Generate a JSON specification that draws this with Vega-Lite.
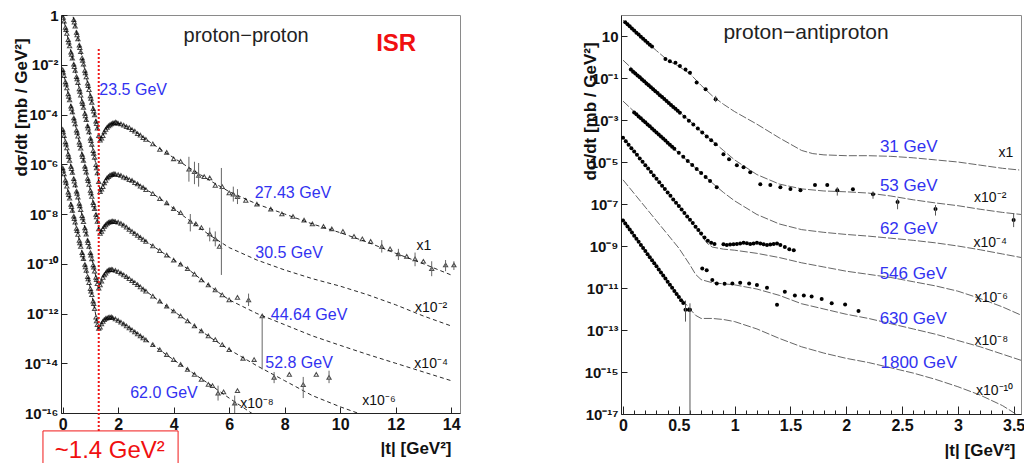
{
"$schema":"https://vega.github.io/schema/vega-lite/v6.json",
"background":"white",
"padding":{"left":11,"top":7,"right":0,"bottom":0},
"autosize":{"type":"pad"},
"bounds":"flush",
"spacing":161,
"resolve":{"scale":{"x":"independent","y":"independent"},"axis":{"x":"independent","y":"independent"}},
"config":{
 "font":"Liberation Sans",
 "view":{"stroke":"#8a8a8a","strokeWidth":1},
 "axis":{"grid":false,"labelFont":"Liberation Sans","labelFontWeight":"bold","labelColor":"#111","titleFont":"Liberation Sans","titleFontWeight":"bold","titleFontSize":17,"titleColor":"#111","domainColor":"#222","tickColor":"#222","tickSize":-6,"labelPadding":9,"labelOverlap":false,"labelFlush":false,"labelBound":false},
 "axisX":{"labelFontSize":16},
 "axisY":{"labelFontSize":15}
},
"datasets":{
"ppc":[
{"s":"A","t":0,"v":1.85},{"s":"A","t":0.2,"v":0.83},{"s":"A","t":0.4,"v":-0.19},{"s":"A","t":0.6,"v":-1.21},{"s":"A","t":0.8,"v":-2.23},{"s":"A","t":1.0,"v":-3.25},{"s":"A","t":1.2,"v":-4.27},{"s":"A","t":1.3,"v":-4.85},{"s":"A","t":1.35,"v":-5.06},{"s":"A","t":1.45,"v":-4.85},{"s":"A","t":1.55,"v":-4.6},{"s":"A","t":1.7,"v":-4.4},{"s":"A","t":1.9,"v":-4.33},{"s":"A","t":2.1,"v":-4.38},{"s":"A","t":2.5,"v":-4.6},{"s":"A","t":3.0,"v":-5.0},{"s":"A","t":3.6,"v":-5.45},{"s":"A","t":4.5,"v":-6.1},{"s":"A","t":5.3,"v":-6.65},{"s":"A","t":6.0,"v":-7.1},{"s":"A","t":7.0,"v":-7.6},{"s":"A","t":8.0,"v":-8.0},{"s":"A","t":9.0,"v":-8.4},{"s":"A","t":10.0,"v":-8.75},{"s":"A","t":11.0,"v":-9.14},{"s":"A","t":12.0,"v":-9.58},{"s":"A","t":13.0,"v":-10.0},{"s":"A","t":14.0,"v":-10.45},
{"s":"B","t":0,"v":0.0},{"s":"B","t":0.2,"v":-0.99},{"s":"B","t":0.4,"v":-1.98},{"s":"B","t":0.6,"v":-2.97},{"s":"B","t":0.8,"v":-3.96},{"s":"B","t":1.0,"v":-4.95},{"s":"B","t":1.2,"v":-6.02},{"s":"B","t":1.3,"v":-6.7},{"s":"B","t":1.35,"v":-7.15},{"s":"B","t":1.45,"v":-6.95},{"s":"B","t":1.55,"v":-6.65},{"s":"B","t":1.7,"v":-6.45},{"s":"B","t":1.9,"v":-6.4},{"s":"B","t":2.1,"v":-6.45},{"s":"B","t":2.5,"v":-6.65},{"s":"B","t":3.0,"v":-7.0},{"s":"B","t":3.6,"v":-7.45},{"s":"B","t":4.5,"v":-8.2},{"s":"B","t":5.3,"v":-8.85},{"s":"B","t":6.0,"v":-9.35},{"s":"B","t":7.0,"v":-9.85},{"s":"B","t":8.0,"v":-10.25},{"s":"B","t":9.0,"v":-10.6},{"s":"B","t":10.0,"v":-10.9},{"s":"B","t":11.0,"v":-11.25},{"s":"B","t":12.0,"v":-11.65},{"s":"B","t":13.0,"v":-12.1},{"s":"B","t":14.0,"v":-12.5},
{"s":"C","t":0,"v":-2.2},{"s":"C","t":0.2,"v":-3.17},{"s":"C","t":0.4,"v":-4.14},{"s":"C","t":0.6,"v":-5.11},{"s":"C","t":0.8,"v":-6.08},{"s":"C","t":1.0,"v":-7.05},{"s":"C","t":1.2,"v":-8.02},{"s":"C","t":1.3,"v":-8.6},{"s":"C","t":1.35,"v":-8.8},{"s":"C","t":1.45,"v":-8.6},{"s":"C","t":1.55,"v":-8.42},{"s":"C","t":1.7,"v":-8.32},{"s":"C","t":1.9,"v":-8.3},{"s":"C","t":2.1,"v":-8.38},{"s":"C","t":2.5,"v":-8.7},{"s":"C","t":3.0,"v":-9.1},{"s":"C","t":3.6,"v":-9.55},{"s":"C","t":4.5,"v":-10.2},{"s":"C","t":5.3,"v":-10.9},{"s":"C","t":6.0,"v":-11.45},{"s":"C","t":7.0,"v":-12.0},{"s":"C","t":8.0,"v":-12.45},{"s":"C","t":9.0,"v":-12.9},{"s":"C","t":10.0,"v":-13.28},{"s":"C","t":11.0,"v":-13.65},{"s":"C","t":12.0,"v":-14.0},{"s":"C","t":13.0,"v":-14.35},{"s":"C","t":14.0,"v":-14.7},
{"s":"D","t":0,"v":-4.6},{"s":"D","t":0.2,"v":-5.59},{"s":"D","t":0.4,"v":-6.58},{"s":"D","t":0.6,"v":-7.57},{"s":"D","t":0.8,"v":-8.56},{"s":"D","t":1.0,"v":-9.55},{"s":"D","t":1.15,"v":-10.3},{"s":"D","t":1.3,"v":-11.0},{"s":"D","t":1.4,"v":-10.7},{"s":"D","t":1.5,"v":-10.45},{"s":"D","t":1.7,"v":-10.24},{"s":"D","t":1.9,"v":-10.27},{"s":"D","t":2.1,"v":-10.38},{"s":"D","t":2.5,"v":-10.68},{"s":"D","t":3.0,"v":-11.1},{"s":"D","t":3.6,"v":-11.6},{"s":"D","t":4.5,"v":-12.3},{"s":"D","t":5.3,"v":-12.95},{"s":"D","t":6.0,"v":-13.45},{"s":"D","t":7.0,"v":-14.1},{"s":"D","t":8.0,"v":-14.7},{"s":"D","t":9.0,"v":-15.3},{"s":"D","t":10.0,"v":-15.75},{"s":"D","t":11.0,"v":-16.15},
{"s":"E","t":0,"v":-6.15},{"s":"E","t":0.2,"v":-7.12},{"s":"E","t":0.4,"v":-8.09},{"s":"E","t":0.6,"v":-9.06},{"s":"E","t":0.8,"v":-10.03},{"s":"E","t":1.0,"v":-11.0},{"s":"E","t":1.15,"v":-11.8},{"s":"E","t":1.28,"v":-12.6},{"s":"E","t":1.4,"v":-12.42},{"s":"E","t":1.55,"v":-12.2},{"s":"E","t":1.75,"v":-12.15},{"s":"E","t":2.0,"v":-12.28},{"s":"E","t":2.5,"v":-12.66},{"s":"E","t":3.0,"v":-13.06},{"s":"E","t":3.6,"v":-13.55},{"s":"E","t":4.5,"v":-14.25},{"s":"E","t":5.3,"v":-14.85},{"s":"E","t":6.0,"v":-15.4},{"s":"E","t":6.6,"v":-15.85},{"s":"E","t":7.0,"v":-16.15}
],
"ppd":[
{"s":"A","t":0.4,"v":-0.19},{"s":"A","t":0.42,"v":-0.29},{"s":"A","t":0.45,"v":-0.45},{"s":"A","t":0.5,"v":-0.7},{"s":"A","t":0.52,"v":-0.8},{"s":"A","t":0.55,"v":-0.96},{"s":"A","t":0.6,"v":-1.21},{"s":"A","t":0.62,"v":-1.31},{"s":"A","t":0.65,"v":-1.47},{"s":"A","t":0.7,"v":-1.72},{"s":"A","t":0.72,"v":-1.82},{"s":"A","t":0.75,"v":-1.98},{"s":"A","t":0.8,"v":-2.23},{"s":"A","t":0.82,"v":-2.33},{"s":"A","t":0.85,"v":-2.49},{"s":"A","t":0.9,"v":-2.74},{"s":"A","t":0.92,"v":-2.84},{"s":"A","t":0.95,"v":-3.0},{"s":"A","t":1.0,"v":-3.25},{"s":"A","t":1.02,"v":-3.35},{"s":"A","t":1.05,"v":-3.51},{"s":"A","t":1.1,"v":-3.76},{"s":"A","t":1.12,"v":-3.86},{"s":"A","t":1.15,"v":-4.02},{"s":"A","t":1.2,"v":-4.27},{"s":"A","t":1.22,"v":-4.37},{"s":"A","t":1.25,"v":-4.55},{"s":"A","t":1.3,"v":-4.85},{"s":"A","t":1.35,"v":-5.03},
{"s":"A","t":1.4,"v":-4.95},{"s":"A","t":1.45,"v":-4.85},{"s":"A","t":1.5,"v":-4.7},{"s":"A","t":1.55,"v":-4.6},{"s":"A","t":1.6,"v":-4.52},{"s":"A","t":1.65,"v":-4.46},{"s":"A","t":1.7,"v":-4.42},{"s":"A","t":1.75,"v":-4.38},{"s":"A","t":1.8,"v":-4.35},{"s":"A","t":1.85,"v":-4.34},{"s":"A","t":1.9,"v":-4.31},{"s":"A","t":1.95,"v":-4.33},{"s":"A","t":2.0,"v":-4.36},{"s":"A","t":2.1,"v":-4.38},{"s":"A","t":2.2,"v":-4.43},{"s":"A","t":2.3,"v":-4.49},{"s":"A","t":2.4,"v":-4.53},{"s":"A","t":2.5,"v":-4.61},{"s":"A","t":2.6,"v":-4.67},{"s":"A","t":2.7,"v":-4.77},{"s":"A","t":2.8,"v":-4.83},{"s":"A","t":2.9,"v":-4.93},{"s":"A","t":3.0,"v":-5.0},{"s":"A","t":3.25,"v":-5.18},{"s":"A","t":3.5,"v":-5.4},{"s":"A","t":3.75,"v":-5.52},{"s":"A","t":4.0,"v":-5.78},{"s":"A","t":4.25,"v":-5.88},{"s":"A","t":4.55,"v":-6.2},{"s":"A","t":4.75,"v":-6.3},{"s":"A","t":4.9,"v":-6.45},{"s":"A","t":5.1,"v":-6.5},{"s":"A","t":5.3,"v":-6.55},{"s":"A","t":5.5,"v":-6.85},{"s":"A","t":5.75,"v":-6.9},{"s":"A","t":6.0,"v":-7.15},{"s":"A","t":6.15,"v":-7.2},{"s":"A","t":6.3,"v":-7.3},{"s":"A","t":6.6,"v":-7.45},{"s":"A","t":7.0,"v":-7.6},{"s":"A","t":7.5,"v":-7.8},{"s":"A","t":7.9,"v":-8.0},{"s":"A","t":8.3,"v":-8.1},{"s":"A","t":8.7,"v":-8.25},{"s":"A","t":9.0,"v":-8.4},{"s":"A","t":9.4,"v":-8.5},{"s":"A","t":9.7,"v":-8.6},{"s":"A","t":10.1,"v":-8.7},{"s":"A","t":10.5,"v":-8.9},{"s":"A","t":10.8,"v":-9.0},{"s":"A","t":11.1,"v":-9.1},{"s":"A","t":11.5,"v":-9.3},{"s":"A","t":11.8,"v":-9.4},{"s":"A","t":12.1,"v":-9.6},{"s":"A","t":12.4,"v":-9.7},{"s":"A","t":12.7,"v":-9.8},{"s":"A","t":13.0,"v":-9.9},{"s":"A","t":13.3,"v":-10.2},{"s":"A","t":13.8,"v":-10.05},{"s":"A","t":14.1,"v":-10.05},
{"s":"B","t":0.02,"v":-0.1},{"s":"B","t":0.05,"v":-0.25},{"s":"B","t":0.1,"v":-0.5},{"s":"B","t":0.12,"v":-0.59},{"s":"B","t":0.15,"v":-0.74},{"s":"B","t":0.2,"v":-0.99},{"s":"B","t":0.22,"v":-1.09},{"s":"B","t":0.25,"v":-1.24},{"s":"B","t":0.3,"v":-1.49},{"s":"B","t":0.32,"v":-1.58},{"s":"B","t":0.35,"v":-1.73},{"s":"B","t":0.4,"v":-1.98},{"s":"B","t":0.42,"v":-2.08},{"s":"B","t":0.45,"v":-2.23},{"s":"B","t":0.5,"v":-2.48},{"s":"B","t":0.52,"v":-2.57},{"s":"B","t":0.55,"v":-2.72},{"s":"B","t":0.6,"v":-2.97},{"s":"B","t":0.62,"v":-3.07},{"s":"B","t":0.65,"v":-3.22},{"s":"B","t":0.7,"v":-3.47},{"s":"B","t":0.72,"v":-3.56},{"s":"B","t":0.75,"v":-3.71},{"s":"B","t":0.8,"v":-3.96},{"s":"B","t":0.82,"v":-4.06},{"s":"B","t":0.85,"v":-4.21},{"s":"B","t":0.9,"v":-4.46},{"s":"B","t":0.92,"v":-4.55},{"s":"B","t":0.95,"v":-4.7},{"s":"B","t":1.0,"v":-4.95},{"s":"B","t":1.02,"v":-5.05},{"s":"B","t":1.05,"v":-5.2},{"s":"B","t":1.1,"v":-5.45},{"s":"B","t":1.12,"v":-5.56},{"s":"B","t":1.15,"v":-5.72},{"s":"B","t":1.2,"v":-6.02},{"s":"B","t":1.22,"v":-6.15},{"s":"B","t":1.25,"v":-6.35},{"s":"B","t":1.3,"v":-6.7},{"s":"B","t":1.35,"v":-7.1},
{"s":"B","t":1.4,"v":-7.0},{"s":"B","t":1.45,"v":-6.9},{"s":"B","t":1.5,"v":-6.75},{"s":"B","t":1.55,"v":-6.65},{"s":"B","t":1.6,"v":-6.55},{"s":"B","t":1.65,"v":-6.5},{"s":"B","t":1.7,"v":-6.45},{"s":"B","t":1.75,"v":-6.42},{"s":"B","t":1.8,"v":-6.41},{"s":"B","t":1.85,"v":-6.38},{"s":"B","t":1.9,"v":-6.4},{"s":"B","t":2.0,"v":-6.42},{"s":"B","t":2.1,"v":-6.45},{"s":"B","t":2.2,"v":-6.52},{"s":"B","t":2.3,"v":-6.55},{"s":"B","t":2.4,"v":-6.62},{"s":"B","t":2.5,"v":-6.65},{"s":"B","t":2.6,"v":-6.74},{"s":"B","t":2.7,"v":-6.79},{"s":"B","t":2.8,"v":-6.88},{"s":"B","t":2.9,"v":-6.93},{"s":"B","t":3.0,"v":-7.02},{"s":"B","t":3.25,"v":-7.18},{"s":"B","t":3.5,"v":-7.38},{"s":"B","t":3.75,"v":-7.55},{"s":"B","t":4.0,"v":-7.78},{"s":"B","t":4.25,"v":-7.95},{"s":"B","t":4.6,"v":-8.3},{"s":"B","t":4.8,"v":-8.4},{"s":"B","t":5.0,"v":-8.55},{"s":"B","t":5.3,"v":-8.8},{"s":"B","t":5.5,"v":-9.0},{"s":"B","t":5.65,"v":-9.3},
{"s":"C","t":0.0,"v":-2.2},{"s":"C","t":0.02,"v":-2.3},{"s":"C","t":0.05,"v":-2.44},{"s":"C","t":0.1,"v":-2.69},{"s":"C","t":0.12,"v":-2.78},{"s":"C","t":0.15,"v":-2.93},{"s":"C","t":0.2,"v":-3.17},{"s":"C","t":0.22,"v":-3.27},{"s":"C","t":0.25,"v":-3.41},{"s":"C","t":0.3,"v":-3.66},{"s":"C","t":0.32,"v":-3.75},{"s":"C","t":0.35,"v":-3.9},{"s":"C","t":0.4,"v":-4.14},{"s":"C","t":0.42,"v":-4.24},{"s":"C","t":0.45,"v":-4.38},{"s":"C","t":0.5,"v":-4.63},{"s":"C","t":0.52,"v":-4.72},{"s":"C","t":0.55,"v":-4.87},{"s":"C","t":0.6,"v":-5.11},{"s":"C","t":0.62,"v":-5.21},{"s":"C","t":0.65,"v":-5.35},{"s":"C","t":0.7,"v":-5.6},{"s":"C","t":0.72,"v":-5.69},{"s":"C","t":0.75,"v":-5.84},{"s":"C","t":0.8,"v":-6.08},{"s":"C","t":0.82,"v":-6.18},{"s":"C","t":0.85,"v":-6.32},{"s":"C","t":0.9,"v":-6.57},{"s":"C","t":0.92,"v":-6.66},{"s":"C","t":0.95,"v":-6.81},{"s":"C","t":1.0,"v":-7.05},{"s":"C","t":1.02,"v":-7.15},{"s":"C","t":1.05,"v":-7.29},{"s":"C","t":1.1,"v":-7.54},{"s":"C","t":1.12,"v":-7.63},{"s":"C","t":1.15,"v":-7.78},{"s":"C","t":1.2,"v":-8.02},{"s":"C","t":1.22,"v":-8.12},{"s":"C","t":1.25,"v":-8.3},{"s":"C","t":1.3,"v":-8.6},{"s":"C","t":1.35,"v":-8.78},
{"s":"C","t":1.4,"v":-8.7},{"s":"C","t":1.45,"v":-8.6},{"s":"C","t":1.5,"v":-8.5},{"s":"C","t":1.55,"v":-8.44},{"s":"C","t":1.6,"v":-8.38},{"s":"C","t":1.65,"v":-8.34},{"s":"C","t":1.7,"v":-8.32},{"s":"C","t":1.75,"v":-8.3},{"s":"C","t":1.8,"v":-8.29},{"s":"C","t":1.85,"v":-8.3},{"s":"C","t":1.9,"v":-8.31},{"s":"C","t":2.0,"v":-8.33},{"s":"C","t":2.1,"v":-8.38},{"s":"C","t":2.2,"v":-8.45},{"s":"C","t":2.3,"v":-8.53},{"s":"C","t":2.4,"v":-8.62},{"s":"C","t":2.5,"v":-8.7},{"s":"C","t":2.6,"v":-8.78},{"s":"C","t":2.7,"v":-8.86},{"s":"C","t":2.8,"v":-8.94},{"s":"C","t":2.9,"v":-9.02},{"s":"C","t":3.0,"v":-9.1},{"s":"C","t":3.25,"v":-9.28},{"s":"C","t":3.5,"v":-9.47},{"s":"C","t":3.75,"v":-9.65},{"s":"C","t":4.0,"v":-9.85},{"s":"C","t":4.25,"v":-10.02},{"s":"C","t":4.5,"v":-10.2},{"s":"C","t":4.75,"v":-10.42},{"s":"C","t":5.0,"v":-10.65},{"s":"C","t":5.25,"v":-10.85},{"s":"C","t":5.5,"v":-11.05},{"s":"C","t":5.75,"v":-11.25},{"s":"C","t":6.0,"v":-11.45},{"s":"C","t":6.3,"v":-11.35},{"s":"C","t":6.7,"v":-11.45},{"s":"C","t":7.19,"v":-12.1},
{"s":"D","t":0.0,"v":-4.6},{"s":"D","t":0.02,"v":-4.7},{"s":"D","t":0.05,"v":-4.85},{"s":"D","t":0.1,"v":-5.1},{"s":"D","t":0.12,"v":-5.19},{"s":"D","t":0.15,"v":-5.34},{"s":"D","t":0.2,"v":-5.59},{"s":"D","t":0.22,"v":-5.69},{"s":"D","t":0.25,"v":-5.84},{"s":"D","t":0.3,"v":-6.09},{"s":"D","t":0.32,"v":-6.18},{"s":"D","t":0.35,"v":-6.33},{"s":"D","t":0.4,"v":-6.58},{"s":"D","t":0.42,"v":-6.68},{"s":"D","t":0.45,"v":-6.83},{"s":"D","t":0.5,"v":-7.08},{"s":"D","t":0.52,"v":-7.17},{"s":"D","t":0.55,"v":-7.32},{"s":"D","t":0.6,"v":-7.57},{"s":"D","t":0.62,"v":-7.67},{"s":"D","t":0.65,"v":-7.82},{"s":"D","t":0.7,"v":-8.07},{"s":"D","t":0.72,"v":-8.16},{"s":"D","t":0.75,"v":-8.31},{"s":"D","t":0.8,"v":-8.56},{"s":"D","t":0.82,"v":-8.66},{"s":"D","t":0.85,"v":-8.81},{"s":"D","t":0.9,"v":-9.06},{"s":"D","t":0.92,"v":-9.15},{"s":"D","t":0.95,"v":-9.3},{"s":"D","t":1.0,"v":-9.55},{"s":"D","t":1.02,"v":-9.65},{"s":"D","t":1.05,"v":-9.8},{"s":"D","t":1.1,"v":-10.05},{"s":"D","t":1.12,"v":-10.14},{"s":"D","t":1.15,"v":-10.3},{"s":"D","t":1.2,"v":-10.55},{"s":"D","t":1.22,"v":-10.64},{"s":"D","t":1.25,"v":-10.8},{"s":"D","t":1.3,"v":-10.98},
{"s":"D","t":1.35,"v":-10.85},{"s":"D","t":1.4,"v":-10.7},{"s":"D","t":1.45,"v":-10.55},{"s":"D","t":1.5,"v":-10.45},{"s":"D","t":1.55,"v":-10.38},{"s":"D","t":1.6,"v":-10.3},{"s":"D","t":1.65,"v":-10.26},{"s":"D","t":1.7,"v":-10.24},{"s":"D","t":1.75,"v":-10.23},{"s":"D","t":1.8,"v":-10.24},{"s":"D","t":1.9,"v":-10.27},{"s":"D","t":2.0,"v":-10.32},{"s":"D","t":2.1,"v":-10.38},{"s":"D","t":2.2,"v":-10.45},{"s":"D","t":2.3,"v":-10.52},{"s":"D","t":2.4,"v":-10.6},{"s":"D","t":2.5,"v":-10.68},{"s":"D","t":2.6,"v":-10.76},{"s":"D","t":2.7,"v":-10.84},{"s":"D","t":2.8,"v":-10.93},{"s":"D","t":2.9,"v":-11.02},{"s":"D","t":3.0,"v":-11.1},{"s":"D","t":3.25,"v":-11.3},{"s":"D","t":3.5,"v":-11.5},{"s":"D","t":3.75,"v":-11.7},{"s":"D","t":4.0,"v":-11.9},{"s":"D","t":4.25,"v":-12.1},{"s":"D","t":4.5,"v":-12.3},{"s":"D","t":4.75,"v":-12.5},{"s":"D","t":5.0,"v":-12.7},{"s":"D","t":5.25,"v":-12.9},{"s":"D","t":5.5,"v":-13.05},{"s":"D","t":5.75,"v":-13.25},{"s":"D","t":6.0,"v":-13.45},{"s":"D","t":6.5,"v":-13.8},{"s":"D","t":6.9,"v":-13.85},{"s":"D","t":7.62,"v":-14.57},{"s":"D","t":8.17,"v":-14.45},{"s":"D","t":8.67,"v":-14.86},{"s":"D","t":9.14,"v":-14.45},{"s":"D","t":9.6,"v":-14.57},
{"s":"E","t":0.0,"v":-6.15},{"s":"E","t":0.02,"v":-6.25},{"s":"E","t":0.05,"v":-6.39},{"s":"E","t":0.1,"v":-6.64},{"s":"E","t":0.12,"v":-6.73},{"s":"E","t":0.15,"v":-6.88},{"s":"E","t":0.2,"v":-7.12},{"s":"E","t":0.22,"v":-7.22},{"s":"E","t":0.25,"v":-7.36},{"s":"E","t":0.3,"v":-7.61},{"s":"E","t":0.32,"v":-7.7},{"s":"E","t":0.35,"v":-7.85},{"s":"E","t":0.4,"v":-8.09},{"s":"E","t":0.42,"v":-8.19},{"s":"E","t":0.45,"v":-8.33},{"s":"E","t":0.5,"v":-8.58},{"s":"E","t":0.52,"v":-8.67},{"s":"E","t":0.55,"v":-8.82},{"s":"E","t":0.6,"v":-9.06},{"s":"E","t":0.62,"v":-9.16},{"s":"E","t":0.65,"v":-9.3},{"s":"E","t":0.7,"v":-9.55},{"s":"E","t":0.72,"v":-9.64},{"s":"E","t":0.75,"v":-9.79},{"s":"E","t":0.8,"v":-10.03},{"s":"E","t":0.82,"v":-10.13},{"s":"E","t":0.85,"v":-10.27},{"s":"E","t":0.9,"v":-10.52},{"s":"E","t":0.92,"v":-10.61},{"s":"E","t":0.95,"v":-10.76},{"s":"E","t":1.0,"v":-11.0},{"s":"E","t":1.02,"v":-11.1},{"s":"E","t":1.05,"v":-11.24},{"s":"E","t":1.1,"v":-11.5},{"s":"E","t":1.12,"v":-11.6},{"s":"E","t":1.15,"v":-11.8},{"s":"E","t":1.2,"v":-12.15},{"s":"E","t":1.22,"v":-12.3},{"s":"E","t":1.25,"v":-12.45},{"s":"E","t":1.3,"v":-12.6},
{"s":"E","t":1.35,"v":-12.55},{"s":"E","t":1.4,"v":-12.42},{"s":"E","t":1.45,"v":-12.32},{"s":"E","t":1.5,"v":-12.25},{"s":"E","t":1.55,"v":-12.2},{"s":"E","t":1.6,"v":-12.18},{"s":"E","t":1.65,"v":-12.16},{"s":"E","t":1.7,"v":-12.15},{"s":"E","t":1.75,"v":-12.14},{"s":"E","t":1.8,"v":-12.17},{"s":"E","t":1.9,"v":-12.22},{"s":"E","t":2.0,"v":-12.28},{"s":"E","t":2.1,"v":-12.35},{"s":"E","t":2.2,"v":-12.42},{"s":"E","t":2.3,"v":-12.5},{"s":"E","t":2.4,"v":-12.58},{"s":"E","t":2.5,"v":-12.66},{"s":"E","t":2.6,"v":-12.74},{"s":"E","t":2.7,"v":-12.82},{"s":"E","t":2.8,"v":-12.9},{"s":"E","t":2.9,"v":-12.98},{"s":"E","t":3.0,"v":-13.06},{"s":"E","t":3.25,"v":-13.25},{"s":"E","t":3.5,"v":-13.45},{"s":"E","t":3.75,"v":-13.65},{"s":"E","t":4.0,"v":-13.85},{"s":"E","t":4.25,"v":-14.05},{"s":"E","t":4.5,"v":-14.25},{"s":"E","t":4.75,"v":-14.45},{"s":"E","t":5.0,"v":-14.65},{"s":"E","t":5.25,"v":-14.85},{"s":"E","t":5.4,"v":-14.9},{"s":"E","t":5.6,"v":-15.2},{"s":"E","t":5.8,"v":-15.15},{"s":"E","t":6.2,"v":-15.6},{"s":"E","t":6.3,"v":-15.1}
],
"ppe":[
{"t":4.55,"lo":-6.7,"hi":-5.7},{"t":4.75,"lo":-6.8,"hi":-5.9},{"t":4.9,"lo":-6.9,"hi":-5.95},{"t":5.72,"lo":-10.45,"hi":-6.15},{"t":6.15,"lo":-7.5,"hi":-6.9},{"t":6.3,"lo":-7.6,"hi":-7.0},{"t":11.5,"lo":-9.55,"hi":-9.05},{"t":12.1,"lo":-9.85,"hi":-9.4},{"t":12.7,"lo":-10.1,"hi":-9.55},{"t":13.3,"lo":-10.5,"hi":-9.9},{"t":13.8,"lo":-10.3,"hi":-9.85},{"t":14.1,"lo":-10.25,"hi":-9.9},
{"t":4.6,"lo":-8.7,"hi":-8.0},{"t":5.3,"lo":-9.1,"hi":-8.55},{"t":5.5,"lo":-9.3,"hi":-8.7},
{"t":6.7,"lo":-11.7,"hi":-11.2},{"t":7.19,"lo":-14.25,"hi":-12.06},
{"t":7.62,"lo":-14.8,"hi":-14.35},{"t":8.67,"lo":-15.4,"hi":-14.55},{"t":9.6,"lo":-14.8,"hi":-14.3},
{"t":5.6,"lo":-15.5,"hi":-14.9},{"t":6.2,"lo":-16.0,"hi":-15.3}
],
"ppl":[{"t":1.3,"a":-1.37,"b":-16.72}],
"ppb":[{"t1":-0.71,"t2":4.16,"a":-16.72,"b":-18.1}],
"ppt":[
{"k":"title","t":6.61,"v":-0.84,"txt":"proton−proton"},
{"k":"isr","t":12.02,"v":-1.17,"txt":"ISR"},
{"k":"e","t":2.54,"v":-3.02,"txt":"23.5 GeV"},
{"k":"e","t":8.3,"v":-7.16,"txt":"27.43 GeV"},
{"k":"e","t":8.16,"v":-9.57,"txt":"30.5 GeV"},
{"k":"e","t":8.88,"v":-12.06,"txt":"44.64 GeV"},
{"k":"e","t":8.52,"v":-13.99,"txt":"52.8 GeV"},
{"k":"e","t":3.65,"v":-15.2,"txt":"62.0 GeV"},
{"k":"m","t":13.02,"v":-9.29,"txt":"x1"},
{"k":"m","t":13.28,"v":-11.78,"txt":"x10⁻²"},
{"k":"m","t":13.28,"v":-14.03,"txt":"x10⁻⁴"},
{"k":"m","t":11.4,"v":-15.52,"txt":"x10⁻⁶"},
{"k":"m","t":7.0,"v":-15.64,"txt":"x10⁻⁸"},
{"k":"box","t":1.7,"v":-17.53,"txt":"~1.4 GeV²"}
],
"apc":[
{"s":"31","q":0,"w":1.75},{"s":"31","q":0.1,"w":1.26},{"s":"31","q":0.2,"w":0.77},{"s":"31","q":0.3,"w":0.3},{"s":"31","q":0.4,"w":-0.15},{"s":"31","q":0.5,"w":-0.45},{"s":"31","q":0.6,"w":-0.8},{"s":"31","q":0.7,"w":-1.35},{"s":"31","q":0.8,"w":-1.85},{"s":"31","q":0.9,"w":-2.25},{"s":"31","q":1.0,"w":-2.6},{"s":"31","q":1.2,"w":-3.2},{"s":"31","q":1.4,"w":-3.85},{"s":"31","q":1.6,"w":-4.45},{"s":"31","q":1.7,"w":-4.6},{"s":"31","q":1.8,"w":-4.66},{"s":"31","q":2.0,"w":-4.7},{"s":"31","q":2.2,"w":-4.7},{"s":"31","q":2.4,"w":-4.73},{"s":"31","q":2.6,"w":-4.8},{"s":"31","q":2.8,"w":-4.9},{"s":"31","q":3.0,"w":-5.0},{"s":"31","q":3.2,"w":-5.15},{"s":"31","q":3.4,"w":-5.3},{"s":"31","q":3.55,"w":-5.38},
{"s":"53","q":0,"w":-0.15},{"s":"53","q":0.1,"w":-0.65},{"s":"53","q":0.2,"w":-1.12},{"s":"53","q":0.3,"w":-1.6},{"s":"53","q":0.4,"w":-2.1},{"s":"53","q":0.5,"w":-2.6},{"s":"53","q":0.6,"w":-3.05},{"s":"53","q":0.7,"w":-3.55},{"s":"53","q":0.8,"w":-4.0},{"s":"53","q":0.9,"w":-4.45},{"s":"53","q":1.0,"w":-4.9},{"s":"53","q":1.2,"w":-5.6},{"s":"53","q":1.4,"w":-6.05},{"s":"53","q":1.6,"w":-6.28},{"s":"53","q":1.8,"w":-6.38},{"s":"53","q":2.0,"w":-6.42},{"s":"53","q":2.2,"w":-6.48},{"s":"53","q":2.4,"w":-6.62},{"s":"53","q":2.6,"w":-6.8},{"s":"53","q":2.8,"w":-6.95},{"s":"53","q":3.0,"w":-7.08},{"s":"53","q":3.2,"w":-7.25},{"s":"53","q":3.4,"w":-7.4},{"s":"53","q":3.57,"w":-7.5},
{"s":"62","q":0,"w":-2.1},{"s":"62","q":0.1,"w":-2.6},{"s":"62","q":0.2,"w":-3.1},{"s":"62","q":0.3,"w":-3.6},{"s":"62","q":0.4,"w":-4.1},{"s":"62","q":0.5,"w":-4.58},{"s":"62","q":0.6,"w":-5.05},{"s":"62","q":0.7,"w":-5.52},{"s":"62","q":0.8,"w":-6.0},{"s":"62","q":0.9,"w":-6.45},{"s":"62","q":1.0,"w":-6.85},{"s":"62","q":1.2,"w":-7.5},{"s":"62","q":1.4,"w":-7.95},{"s":"62","q":1.6,"w":-8.22},{"s":"62","q":1.8,"w":-8.35},{"s":"62","q":2.0,"w":-8.45},{"s":"62","q":2.2,"w":-8.53},{"s":"62","q":2.4,"w":-8.63},{"s":"62","q":2.6,"w":-8.73},{"s":"62","q":2.8,"w":-8.85},{"s":"62","q":3.0,"w":-9.0},{"s":"62","q":3.2,"w":-9.18},{"s":"62","q":3.4,"w":-9.38},{"s":"62","q":3.57,"w":-9.55},
{"s":"546","q":0,"w":-3.8},{"s":"546","q":0.1,"w":-4.5},{"s":"546","q":0.2,"w":-5.15},{"s":"546","q":0.3,"w":-5.8},{"s":"546","q":0.4,"w":-6.45},{"s":"546","q":0.5,"w":-7.1},{"s":"546","q":0.6,"w":-7.75},{"s":"546","q":0.7,"w":-8.45},{"s":"546","q":0.75,"w":-8.85},{"s":"546","q":0.8,"w":-9.05},{"s":"546","q":0.9,"w":-9.15},{"s":"546","q":1.0,"w":-9.2},{"s":"546","q":1.2,"w":-9.35},{"s":"546","q":1.4,"w":-9.55},{"s":"546","q":1.6,"w":-9.8},{"s":"546","q":1.8,"w":-10.0},{"s":"546","q":2.0,"w":-10.2},{"s":"546","q":2.2,"w":-10.35},{"s":"546","q":2.4,"w":-10.5},{"s":"546","q":2.6,"w":-10.7},{"s":"546","q":2.8,"w":-10.9},{"s":"546","q":3.0,"w":-11.15},{"s":"546","q":3.2,"w":-11.5},{"s":"546","q":3.4,"w":-11.9},{"s":"546","q":3.57,"w":-12.3},
{"s":"630","q":0,"w":-5.85},{"s":"630","q":0.1,"w":-6.5},{"s":"630","q":0.2,"w":-7.15},{"s":"630","q":0.3,"w":-7.8},{"s":"630","q":0.4,"w":-8.45},{"s":"630","q":0.5,"w":-9.1},{"s":"630","q":0.6,"w":-9.9},{"s":"630","q":0.65,"w":-10.35},{"s":"630","q":0.7,"w":-10.6},{"s":"630","q":0.8,"w":-10.75},{"s":"630","q":0.9,"w":-10.8},{"s":"630","q":1.0,"w":-10.85},{"s":"630","q":1.2,"w":-11.05},{"s":"630","q":1.4,"w":-11.35},{"s":"630","q":1.6,"w":-11.75},{"s":"630","q":1.8,"w":-12.0},{"s":"630","q":2.0,"w":-12.25},{"s":"630","q":2.2,"w":-12.45},{"s":"630","q":2.4,"w":-12.7},{"s":"630","q":2.6,"w":-12.95},{"s":"630","q":2.8,"w":-13.2},{"s":"630","q":3.0,"w":-13.5},{"s":"630","q":3.2,"w":-13.8},{"s":"630","q":3.4,"w":-14.15},{"s":"630","q":3.57,"w":-14.45},
{"s":"1800","q":0,"w":-7.7},{"s":"1800","q":0.1,"w":-8.45},{"s":"1800","q":0.2,"w":-9.2},{"s":"1800","q":0.3,"w":-9.95},{"s":"1800","q":0.4,"w":-10.65},{"s":"1800","q":0.5,"w":-11.35},{"s":"1800","q":0.6,"w":-12.0},{"s":"1800","q":0.65,"w":-12.3},{"s":"1800","q":0.7,"w":-12.45},{"s":"1800","q":0.8,"w":-12.45},{"s":"1800","q":0.9,"w":-12.5},{"s":"1800","q":1.0,"w":-12.6},{"s":"1800","q":1.2,"w":-12.95},{"s":"1800","q":1.4,"w":-13.4},{"s":"1800","q":1.6,"w":-13.8},{"s":"1800","q":1.8,"w":-14.1},{"s":"1800","q":2.0,"w":-14.35},{"s":"1800","q":2.2,"w":-14.55},{"s":"1800","q":2.4,"w":-14.8},{"s":"1800","q":2.6,"w":-15.05},{"s":"1800","q":2.8,"w":-15.35},{"s":"1800","q":3.0,"w":-15.7},{"s":"1800","q":3.2,"w":-16.1},{"s":"1800","q":3.4,"w":-16.6},{"s":"1800","q":3.52,"w":-17.0}
],
"apd":[
{"s":"31","q":0.02,"w":1.66},{"s":"31","q":0.04,"w":1.56},{"s":"31","q":0.06,"w":1.46},{"s":"31","q":0.08,"w":1.36},{"s":"31","q":0.1,"w":1.26},{"s":"31","q":0.12,"w":1.16},{"s":"31","q":0.14,"w":1.07},{"s":"31","q":0.16,"w":0.97},{"s":"31","q":0.18,"w":0.87},{"s":"31","q":0.2,"w":0.77},{"s":"31","q":0.22,"w":0.68},{"s":"31","q":0.24,"w":0.58},{"s":"31","q":0.26,"w":0.5},{"s":"31","q":0.38,"w":-0.09},{"s":"31","q":0.42,"w":-0.2},{"s":"31","q":0.47,"w":-0.27},{"s":"31","q":0.51,"w":-0.43},{"s":"31","q":0.56,"w":-0.59},{"s":"31","q":0.6,"w":-0.75},{"s":"31","q":0.66,"w":-1.22},{"s":"31","q":0.74,"w":-1.54},{"s":"31","q":0.83,"w":-2.01},
{"s":"53","q":0.07,"w":-0.6},{"s":"53","q":0.09,"w":-0.7},{"s":"53","q":0.11,"w":-0.79},{"s":"53","q":0.13,"w":-0.88},{"s":"53","q":0.15,"w":-0.97},{"s":"53","q":0.17,"w":-1.07},{"s":"53","q":0.19,"w":-1.16},{"s":"53","q":0.21,"w":-1.26},{"s":"53","q":0.23,"w":-1.35},{"s":"53","q":0.25,"w":-1.44},{"s":"53","q":0.27,"w":-1.53},{"s":"53","q":0.29,"w":-1.63},{"s":"53","q":0.31,"w":-1.72},{"s":"53","q":0.33,"w":-1.82},{"s":"53","q":0.35,"w":-1.91},{"s":"53","q":0.37,"w":-2.0},{"s":"53","q":0.39,"w":-2.1},{"s":"53","q":0.41,"w":-2.19},{"s":"53","q":0.43,"w":-2.28},{"s":"53","q":0.45,"w":-2.38},{"s":"53","q":0.47,"w":-2.47},{"s":"53","q":0.49,"w":-2.56},{"s":"53","q":0.51,"w":-2.66},{"s":"53","q":0.55,"w":-2.84},{"s":"53","q":0.59,"w":-3.03},{"s":"53","q":0.63,"w":-3.22},{"s":"53","q":0.67,"w":-3.4},{"s":"53","q":0.71,"w":-3.59},{"s":"53","q":0.75,"w":-3.78},{"s":"53","q":0.79,"w":-3.97},{"s":"53","q":0.83,"w":-4.15},{"s":"53","q":0.9,"w":-4.63},{"s":"53","q":0.95,"w":-4.87},{"s":"53","q":1.02,"w":-5.16},{"s":"53","q":1.08,"w":-5.25},{"s":"53","q":1.14,"w":-5.49},{"s":"53","q":1.23,"w":-6.06},{"s":"53","q":1.32,"w":-6.1},{"s":"53","q":1.41,"w":-6.2},{"s":"53","q":1.5,"w":-6.29},{"s":"53","q":1.59,"w":-6.34},{"s":"53","q":1.72,"w":-6.1},{"s":"53","q":1.83,"w":-6.1},{"s":"53","q":1.92,"w":-6.34},{"s":"53","q":2.06,"w":-6.3},{"s":"53","q":2.24,"w":-6.53},{"s":"53","q":2.46,"w":-6.91},{"s":"53","q":2.8,"w":-7.24},{"s":"53","q":3.5,"w":-7.76},
{"s":"62","q":0.1,"w":-2.64},{"s":"62","q":0.12,"w":-2.73},{"s":"62","q":0.14,"w":-2.83},{"s":"62","q":0.16,"w":-2.92},{"s":"62","q":0.18,"w":-3.02},{"s":"62","q":0.2,"w":-3.11},{"s":"62","q":0.22,"w":-3.21},{"s":"62","q":0.24,"w":-3.3},{"s":"62","q":0.26,"w":-3.4},{"s":"62","q":0.28,"w":-3.5},{"s":"62","q":0.3,"w":-3.6},{"s":"62","q":0.32,"w":-3.69},{"s":"62","q":0.34,"w":-3.79},{"s":"62","q":0.36,"w":-3.88},{"s":"62","q":0.38,"w":-3.98},{"s":"62","q":0.4,"w":-4.08},{"s":"62","q":0.42,"w":-4.18},{"s":"62","q":0.44,"w":-4.27},{"s":"62","q":0.46,"w":-4.37},{"s":"62","q":0.5,"w":-4.56},{"s":"62","q":0.54,"w":-4.75},{"s":"62","q":0.58,"w":-4.95},{"s":"62","q":0.62,"w":-5.14},{"s":"62","q":0.66,"w":-5.33},{"s":"62","q":0.7,"w":-5.52},{"s":"62","q":0.74,"w":-5.72},{"s":"62","q":0.78,"w":-5.91},{"s":"62","q":0.84,"w":-6.2},
{"s":"546","q":0.0,"w":-3.85},{"s":"546","q":0.025,"w":-4.01},{"s":"546","q":0.05,"w":-4.18},{"s":"546","q":0.075,"w":-4.34},{"s":"546","q":0.1,"w":-4.5},{"s":"546","q":0.125,"w":-4.66},{"s":"546","q":0.15,"w":-4.83},{"s":"546","q":0.175,"w":-4.99},{"s":"546","q":0.2,"w":-5.15},{"s":"546","q":0.225,"w":-5.31},{"s":"546","q":0.25,"w":-5.48},{"s":"546","q":0.275,"w":-5.64},{"s":"546","q":0.3,"w":-5.8},{"s":"546","q":0.325,"w":-5.96},{"s":"546","q":0.35,"w":-6.13},{"s":"546","q":0.375,"w":-6.29},{"s":"546","q":0.4,"w":-6.45},{"s":"546","q":0.425,"w":-6.61},{"s":"546","q":0.45,"w":-6.78},{"s":"546","q":0.475,"w":-6.94},{"s":"546","q":0.5,"w":-7.1},{"s":"546","q":0.525,"w":-7.26},{"s":"546","q":0.55,"w":-7.43},{"s":"546","q":0.575,"w":-7.59},{"s":"546","q":0.6,"w":-7.75},{"s":"546","q":0.625,"w":-7.91},{"s":"546","q":0.65,"w":-8.08},{"s":"546","q":0.675,"w":-8.24},{"s":"546","q":0.7,"w":-8.4},{"s":"546","q":0.73,"w":-8.6},{"s":"546","q":0.76,"w":-8.75},{"s":"546","q":0.79,"w":-8.85},{"s":"546","q":0.82,"w":-8.9},{"s":"546","q":0.9,"w":-8.92},{"s":"546","q":0.93,"w":-8.95},{"s":"546","q":0.96,"w":-8.93},{"s":"546","q":0.99,"w":-8.92},{"s":"546","q":1.02,"w":-8.9},{"s":"546","q":1.05,"w":-8.88},{"s":"546","q":1.08,"w":-8.85},{"s":"546","q":1.11,"w":-8.87},{"s":"546","q":1.14,"w":-8.9},{"s":"546","q":1.17,"w":-8.88},{"s":"546","q":1.2,"w":-8.85},{"s":"546","q":1.23,"w":-8.88},{"s":"546","q":1.26,"w":-8.92},{"s":"546","q":1.29,"w":-8.95},{"s":"546","q":1.32,"w":-8.93},{"s":"546","q":1.35,"w":-8.9},{"s":"546","q":1.38,"w":-8.88},{"s":"546","q":1.41,"w":-8.95},{"s":"546","q":1.45,"w":-9.05},{"s":"546","q":1.49,"w":-9.15},{"s":"546","q":1.53,"w":-9.2},
{"s":"630","q":0.71,"w":-10.07},{"s":"630","q":0.75,"w":-10.15},{"s":"630","q":0.8,"w":-10.62},{"s":"630","q":0.84,"w":-10.78},{"s":"630","q":0.91,"w":-10.8},{"s":"630","q":0.98,"w":-10.78},{"s":"630","q":1.05,"w":-10.75},{"s":"630","q":1.13,"w":-10.78},{"s":"630","q":1.2,"w":-10.86},{"s":"630","q":1.29,"w":-10.99},{"s":"630","q":1.38,"w":-11.8},{"s":"630","q":1.45,"w":-11.18},{"s":"630","q":1.54,"w":-11.36},{"s":"630","q":1.62,"w":-11.36},{"s":"630","q":1.69,"w":-11.41},{"s":"630","q":1.78,"w":-11.52},{"s":"630","q":1.87,"w":-11.73},{"s":"630","q":1.99,"w":-11.78},{"s":"630","q":2.11,"w":-12.09},
{"s":"1800","q":0.0,"w":-7.78},{"s":"1800","q":0.02,"w":-7.93},{"s":"1800","q":0.04,"w":-8.07},{"s":"1800","q":0.06,"w":-8.22},{"s":"1800","q":0.08,"w":-8.36},{"s":"1800","q":0.1,"w":-8.51},{"s":"1800","q":0.12,"w":-8.66},{"s":"1800","q":0.14,"w":-8.8},{"s":"1800","q":0.16,"w":-8.95},{"s":"1800","q":0.18,"w":-9.09},{"s":"1800","q":0.2,"w":-9.24},{"s":"1800","q":0.22,"w":-9.39},{"s":"1800","q":0.24,"w":-9.53},{"s":"1800","q":0.26,"w":-9.68},{"s":"1800","q":0.28,"w":-9.82},{"s":"1800","q":0.3,"w":-9.97},{"s":"1800","q":0.32,"w":-10.12},{"s":"1800","q":0.34,"w":-10.26},{"s":"1800","q":0.36,"w":-10.41},{"s":"1800","q":0.38,"w":-10.55},{"s":"1800","q":0.4,"w":-10.7},{"s":"1800","q":0.42,"w":-10.85},{"s":"1800","q":0.44,"w":-10.99},{"s":"1800","q":0.46,"w":-11.14},{"s":"1800","q":0.48,"w":-11.28},{"s":"1800","q":0.5,"w":-11.43},{"s":"1800","q":0.52,"w":-11.58},{"s":"1800","q":0.54,"w":-11.72},{"s":"1800","q":0.56,"w":-12.04},{"s":"1800","q":0.59,"w":-12.04},{"s":"1800","q":0.6,"w":-12.04}
],
"ape":[
{"q":0.56,"lo":-12.6,"hi":-11.6},{"q":0.6,"lo":-17.0,"hi":-11.73},{"q":0.83,"lo":-2.15,"hi":-1.85},{"q":1.92,"lo":-6.6,"hi":-6.2},{"q":2.24,"lo":-6.75,"hi":-6.4},{"q":2.46,"lo":-7.25,"hi":-6.75},{"q":2.8,"lo":-7.55,"hi":-7.05},{"q":3.5,"lo":-8.1,"hi":-7.45}
],
"apt":[
{"k":"title","q":1.64,"w":1.14,"txt":"proton−antiproton"},
{"k":"e","q":2.56,"w":-4.29,"txt":"31 GeV"},
{"k":"e","q":2.56,"w":-6.14,"txt":"53 GeV"},
{"k":"e","q":2.56,"w":-8.19,"txt":"62 GeV"},
{"k":"e","q":2.6,"w":-10.33,"txt":"546 GeV"},
{"k":"e","q":2.6,"w":-12.48,"txt":"630 GeV"},
{"k":"e","q":2.65,"w":-14.57,"txt":"1800 GeV"},
{"k":"m","q":3.43,"w":-4.57,"txt":"x1"},
{"k":"m","q":3.29,"w":-6.71,"txt":"x10⁻²"},
{"k":"m","q":3.29,"w":-8.86,"txt":"x10⁻⁴"},
{"k":"m","q":3.3,"w":-11.48,"txt":"x10⁻⁶"},
{"k":"m","q":3.3,"w":-13.52,"txt":"x10⁻⁸"},
{"k":"m","q":3.33,"w":-15.9,"txt":"x10⁻¹⁰"}
]
},
"hconcat":[
{
"width":399,"height":398,
"layer":[
{"data":{"name":"ppc"},"mark":{"type":"line","color":"#111","strokeWidth":0.9,"strokeDash":[4,3],"clip":true},
 "encoding":{
  "x":{"field":"t","type":"quantitative","title":"|t| [GeV²]","scale":{"domain":[-0.06,14.32],"nice":false,"zero":false},
   "axis":{"values":[0,0.5,1,1.5,2,2.5,3,3.5,4,4.5,5,5.5,6,6.5,7,7.5,8,8.5,9,9.5,10,10.5,11,11.5,12,12.5,13,13.5,14],"format":"d","labelOpacity":{"condition":{"test":"datum.value % 2 != 0","value":0},"value":1},"labelOverlap":false,"titleX":390,"titleY":35,"titleAlign":"right","titleBaseline":"middle","titleAnchor":null}},
  "y":{"field":"v","type":"quantitative","title":"dσ/dt [mb / GeV²]","scale":{"domain":[-16,0],"nice":false,"zero":false},
   "axis":{"values":[-16,-15,-14,-13,-12,-11,-10,-9,-8,-7,-6,-5,-4,-3,-2,-1,0],"labelExpr":"datum.value==0?'1':datum.value==-2?'10⁻²':datum.value==-4?'10⁻⁴':datum.value==-6?'10⁻⁶':datum.value==-8?'10⁻⁸':datum.value==-10?'10⁻¹⁰':datum.value==-12?'10⁻¹²':datum.value==-14?'10⁻¹⁴':datum.value==-16?'10⁻¹⁶':''","labelOverlap":false,"titleX":-40,"titleY":92,"titleAngle":270,"titleAlign":"center","titleBaseline":"middle"}},
  "detail":{"field":"s"}}},
{"data":{"name":"ppd"},"mark":{"type":"point","shape":"triangle-up","filled":false,"color":"#000","strokeWidth":1.05,"size":18,"clip":true},
 "encoding":{"x":{"field":"t","type":"quantitative","title":"|t| [GeV²]"},"y":{"field":"v","type":"quantitative","title":"dσ/dt [mb / GeV²]"}}},
{"data":{"name":"ppe"},"mark":{"type":"rule","color":"#666","strokeWidth":1,"clip":true},
 "encoding":{"x":{"field":"t","type":"quantitative","title":"|t| [GeV²]"},"y":{"field":"lo","type":"quantitative","title":"dσ/dt [mb / GeV²]"},"y2":{"field":"hi"}}},
{"data":{"name":"ppl"},"mark":{"type":"rule","color":"#f01818","strokeWidth":2,"strokeDash":[2,2]},
 "encoding":{"x":{"field":"t","type":"quantitative","title":"|t| [GeV²]"},"y":{"field":"a","type":"quantitative","title":"dσ/dt [mb / GeV²]"},"y2":{"field":"b"}}},
{"data":{"name":"ppb"},"mark":{"type":"rect","fill":"white","stroke":"#f01818","strokeWidth":1},
 "encoding":{"x":{"field":"t1","type":"quantitative","title":"|t| [GeV²]"},"x2":{"field":"t2"},"y":{"field":"a","type":"quantitative","title":"dσ/dt [mb / GeV²]"},"y2":{"field":"b"}}},
{"data":{"name":"ppt"},"transform":[{"filter":"datum.k=='e'"}],"mark":{"type":"text","color":"#3232f0","fontSize":16,"font":"Liberation Sans"},
 "encoding":{"x":{"field":"t","type":"quantitative","title":"|t| [GeV²]"},"y":{"field":"v","type":"quantitative","title":"dσ/dt [mb / GeV²]"},"text":{"field":"txt"}}},
{"data":{"name":"ppt"},"transform":[{"filter":"datum.k=='m'"}],"mark":{"type":"text","color":"#111","fontSize":14,"font":"Liberation Sans"},
 "encoding":{"x":{"field":"t","type":"quantitative","title":"|t| [GeV²]"},"y":{"field":"v","type":"quantitative","title":"dσ/dt [mb / GeV²]"},"text":{"field":"txt"}}},
{"data":{"name":"ppt"},"transform":[{"filter":"datum.k=='title'"}],"mark":{"type":"text","color":"#222","fontSize":20,"font":"Liberation Sans"},
 "encoding":{"x":{"field":"t","type":"quantitative","title":"|t| [GeV²]"},"y":{"field":"v","type":"quantitative","title":"dσ/dt [mb / GeV²]"},"text":{"field":"txt"}}},
{"data":{"name":"ppt"},"transform":[{"filter":"datum.k=='isr'"}],"mark":{"type":"text","color":"#f01010","fontSize":24,"fontWeight":"bold","font":"Liberation Sans"},
 "encoding":{"x":{"field":"t","type":"quantitative","title":"|t| [GeV²]"},"y":{"field":"v","type":"quantitative","title":"dσ/dt [mb / GeV²]"},"text":{"field":"txt"}}},
{"data":{"name":"ppt"},"transform":[{"filter":"datum.k=='box'"}],"mark":{"type":"text","color":"#f01010","fontSize":24,"font":"Liberation Sans"},
 "encoding":{"x":{"field":"t","type":"quantitative","title":"|t| [GeV²]"},"y":{"field":"v","type":"quantitative","title":"dσ/dt [mb / GeV²]"},"text":{"field":"txt"}}}
]
},
{
"width":400,"height":399,
"resolve":{"axis":{"x":"independent"}},
"layer":[
{"data":{"name":"apc"},"mark":{"type":"line","color":"#555","strokeWidth":0.9,"strokeDash":[8,2],"clip":true},
 "encoding":{
  "x":{"field":"q","type":"quantitative","title":"|t| [GeV²] ","scale":{"domain":[-0.018,3.566],"nice":false,"zero":false},
   "axis":{"orient":"bottom","values":[0,0.5,1,1.5,2,2.5,3,3.5],"format":".1~f","tickSize":-8,"labelPadding":11,"labelOverlap":false,"titleX":394,"titleY":36,"titleAlign":"right","titleBaseline":"middle","titleAnchor":null}},
  "y":{"field":"w","type":"quantitative","title":"dσ/dt [mb / GeV²] ","scale":{"domain":[-17,2],"nice":false,"zero":false},
   "axis":{"values":[-17,-16,-15,-14,-13,-12,-11,-10,-9,-8,-7,-6,-5,-4,-3,-2,-1,0,1,2],"labelExpr":"datum.value==1?'10':datum.value==-1?'10⁻¹':datum.value==-3?'10⁻³':datum.value==-5?'10⁻⁵':datum.value==-7?'10⁻⁷':datum.value==-9?'10⁻⁹':datum.value==-11?'10⁻¹¹':datum.value==-13?'10⁻¹³':datum.value==-15?'10⁻¹⁵':datum.value==-17?'10⁻¹⁷':''","labelOverlap":false,"titleX":-31,"titleY":96,"titleAngle":270,"titleAlign":"center","titleBaseline":"middle"}},
  "detail":{"field":"s"}}},
{"data":{"name":"apd"},"mark":{"type":"circle","color":"#000","opacity":1,"size":16,"clip":true},
 "encoding":{"x":{"field":"q","type":"quantitative","axis":null},"y":{"field":"w","type":"quantitative","title":"dσ/dt [mb / GeV²] "}}},
{"data":{"name":"ape"},"mark":{"type":"rule","color":"#555","strokeWidth":1,"clip":true},
 "encoding":{"x":{"field":"q","type":"quantitative","axis":null},"y":{"field":"lo","type":"quantitative","title":"dσ/dt [mb / GeV²] "},"y2":{"field":"hi"}}},
{"data":{"name":"apt"},"transform":[{"filter":"datum.k=='e'"}],"mark":{"type":"text","color":"#3232f0","fontSize":17,"font":"Liberation Sans"},
 "encoding":{"x":{"field":"q","type":"quantitative","axis":null},"y":{"field":"w","type":"quantitative","title":"dσ/dt [mb / GeV²] "},"text":{"field":"txt"}}},
{"data":{"name":"apt"},"transform":[{"filter":"datum.k=='m'"}],"mark":{"type":"text","color":"#111","fontSize":14,"font":"Liberation Sans"},
 "encoding":{"x":{"field":"q","type":"quantitative","axis":null},"y":{"field":"w","type":"quantitative","title":"dσ/dt [mb / GeV²] "},"text":{"field":"txt"}}},
{"data":{"name":"apt"},"transform":[{"filter":"datum.k=='title'"}],"mark":{"type":"text","color":"#222","fontSize":21,"font":"Liberation Sans"},
 "encoding":{"x":{"field":"q","type":"quantitative","axis":null},"y":{"field":"w","type":"quantitative","title":"dσ/dt [mb / GeV²] "},"text":{"field":"txt"}}},
{"data":{"name":"apt"},"transform":[{"filter":"datum.k=='title'"}],"mark":{"type":"point","opacity":0},
 "encoding":{"x":{"field":"q","type":"quantitative","axis":{"orient":"bottom","values":[0.1,0.2,0.3,0.4,0.6,0.7,0.8,0.9,1.1,1.2,1.3,1.4,1.6,1.7,1.8,1.9,2.1,2.2,2.3,2.4,2.6,2.7,2.8,2.9,3.1,3.2,3.3,3.4],"labels":false,"domain":false,"title":null,"tickSize":-4}},"y":{"field":"w","type":"quantitative","title":"dσ/dt [mb / GeV²] "}}}
]
}
]
}
